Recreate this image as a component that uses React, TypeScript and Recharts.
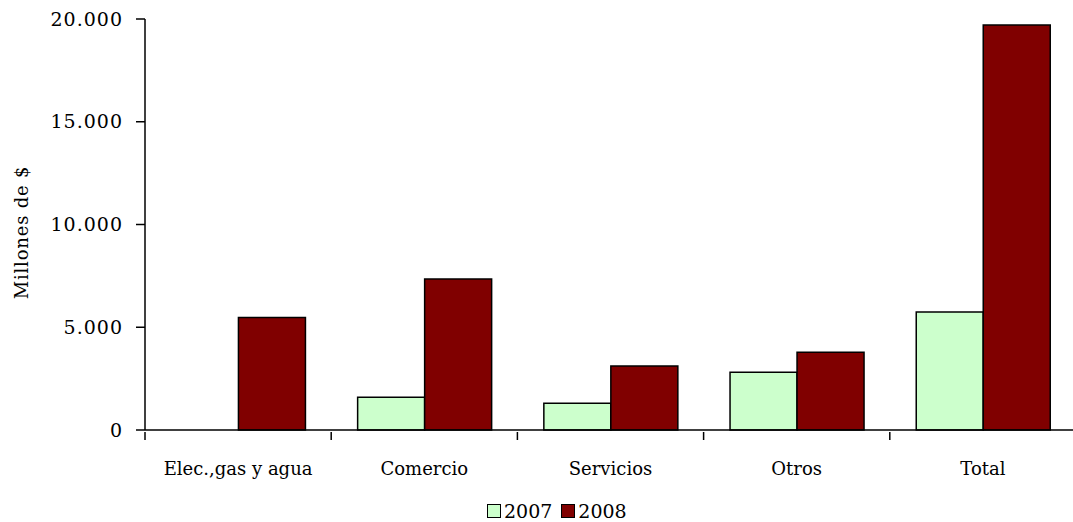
import { BarChart, Bar, XAxis, YAxis, Legend } from 'recharts';

const categories = ['Elec.,gas y agua', 'Comercio', 'Servicios', 'Otros', 'Total'];
const values2007 = [0, 1592, 1300, 2810, 5746];
const values2008 = [5469, 7353, 3117, 3784, 19708];
const yTicks = [0, 5000, 10000, 15000, 20000];

const FONT = '"DejaVu Serif", serif';
const COLOR_2007 = '#CCFFCC';
const COLOR_2008 = '#800000';

const chartData = categories.map((name, i) => ({
    name,
    y2007: values2007[i],
    y2008: values2008[i],
}));

const formatThousands = (v: number) => v.toString().replace(/\B(?=(\d{3})+(?!\d))/g, '.');

// category ticks sit on the band boundaries, label in the middle
function CategoryTick(props: any) {
    const { x, y, payload, width } = props;
    const band = (width ?? 931) / categories.length;
    const left = x - band / 2;
    return (
        <g>
            <line x1={left} y1={y} x2={left} y2={y + 8} stroke="#000" strokeWidth={1.5} />
            <text x={x} y={y + 43} textAnchor="middle" fontFamily={FONT} fontSize={18} fill="#000">
                {payload.value}
            </text>
        </g>
    );
}

function YLabel(props: any) {
    const { viewBox } = props;
    const cy = viewBox.y + viewBox.height / 2 + 8;
    return (
        <text
            x={21}
            y={cy}
            transform={`rotate(-90 21 ${cy})`}
            textAnchor="middle"
            dominantBaseline="central"
            fontFamily={FONT}
            fontSize={18}
            letterSpacing={0.8}
            fill="#000"
        >
            Millones de $
        </text>
    );
}

function LegendBox() {
    const items = [
        { label: '2007', color: COLOR_2007 },
        { label: '2008', color: COLOR_2008 },
    ];
    return (
        <div style={{ display: 'flex', alignItems: 'center', fontFamily: FONT, fontSize: 19, color: '#000' }}>
            {items.map((it) => (
                <div key={it.label} style={{ display: 'flex', alignItems: 'center', marginRight: 9 }}>
                    <span
                        style={{
                            display: 'inline-block',
                            width: 12,
                            height: 12,
                            background: it.color,
                            border: '1.5px solid #000',
                            marginRight: 3,
                        }}
                    />
                    <span>{it.label}</span>
                </div>
            ))}
        </div>
    );
}

export default function App() {
    return (
        <div style={{ position: 'absolute', left: 0, top: 0, width: 1073, height: 522, overflow: 'hidden', background: '#fff' }}>
            <BarChart
                width={1080}
                height={522}
                data={chartData}
                margin={{ top: 19, right: 4, bottom: 0, left: 0 }}
                barCategoryGap="14.2%"
                barGap={0}
            >
                <XAxis
                    dataKey="name"
                    height={92}
                    tickLine={false}
                    tickSize={0}
                    tick={<CategoryTick />}
                    axisLine={{ stroke: '#000', strokeWidth: 1.5 }}
                    interval={0}
                />
                <YAxis
                    width={145}
                    domain={[0, 20000]}
                    ticks={yTicks}
                    tickFormatter={formatThousands}
                    tickSize={9}
                    tickMargin={13}
                    tickLine={{ stroke: '#000', strokeWidth: 1.5 }}
                    axisLine={{ stroke: '#000', strokeWidth: 1.5 }}
                    tick={{ fill: '#000', fontFamily: FONT, fontSize: 19, letterSpacing: 1 }}
                    label={<YLabel />}
                />
                <Legend
                    verticalAlign="middle"
                    content={<LegendBox />}
                    wrapperStyle={{ top: 500, left: 487, width: 'auto' }}
                />
                <Bar dataKey="y2007" name="2007" fill={COLOR_2007} stroke="#000" strokeWidth={1.5} isAnimationActive={false} />
                <Bar dataKey="y2008" name="2008" fill={COLOR_2008} stroke="#000" strokeWidth={1.5} isAnimationActive={false} />
            </BarChart>
        </div>
    );
}
